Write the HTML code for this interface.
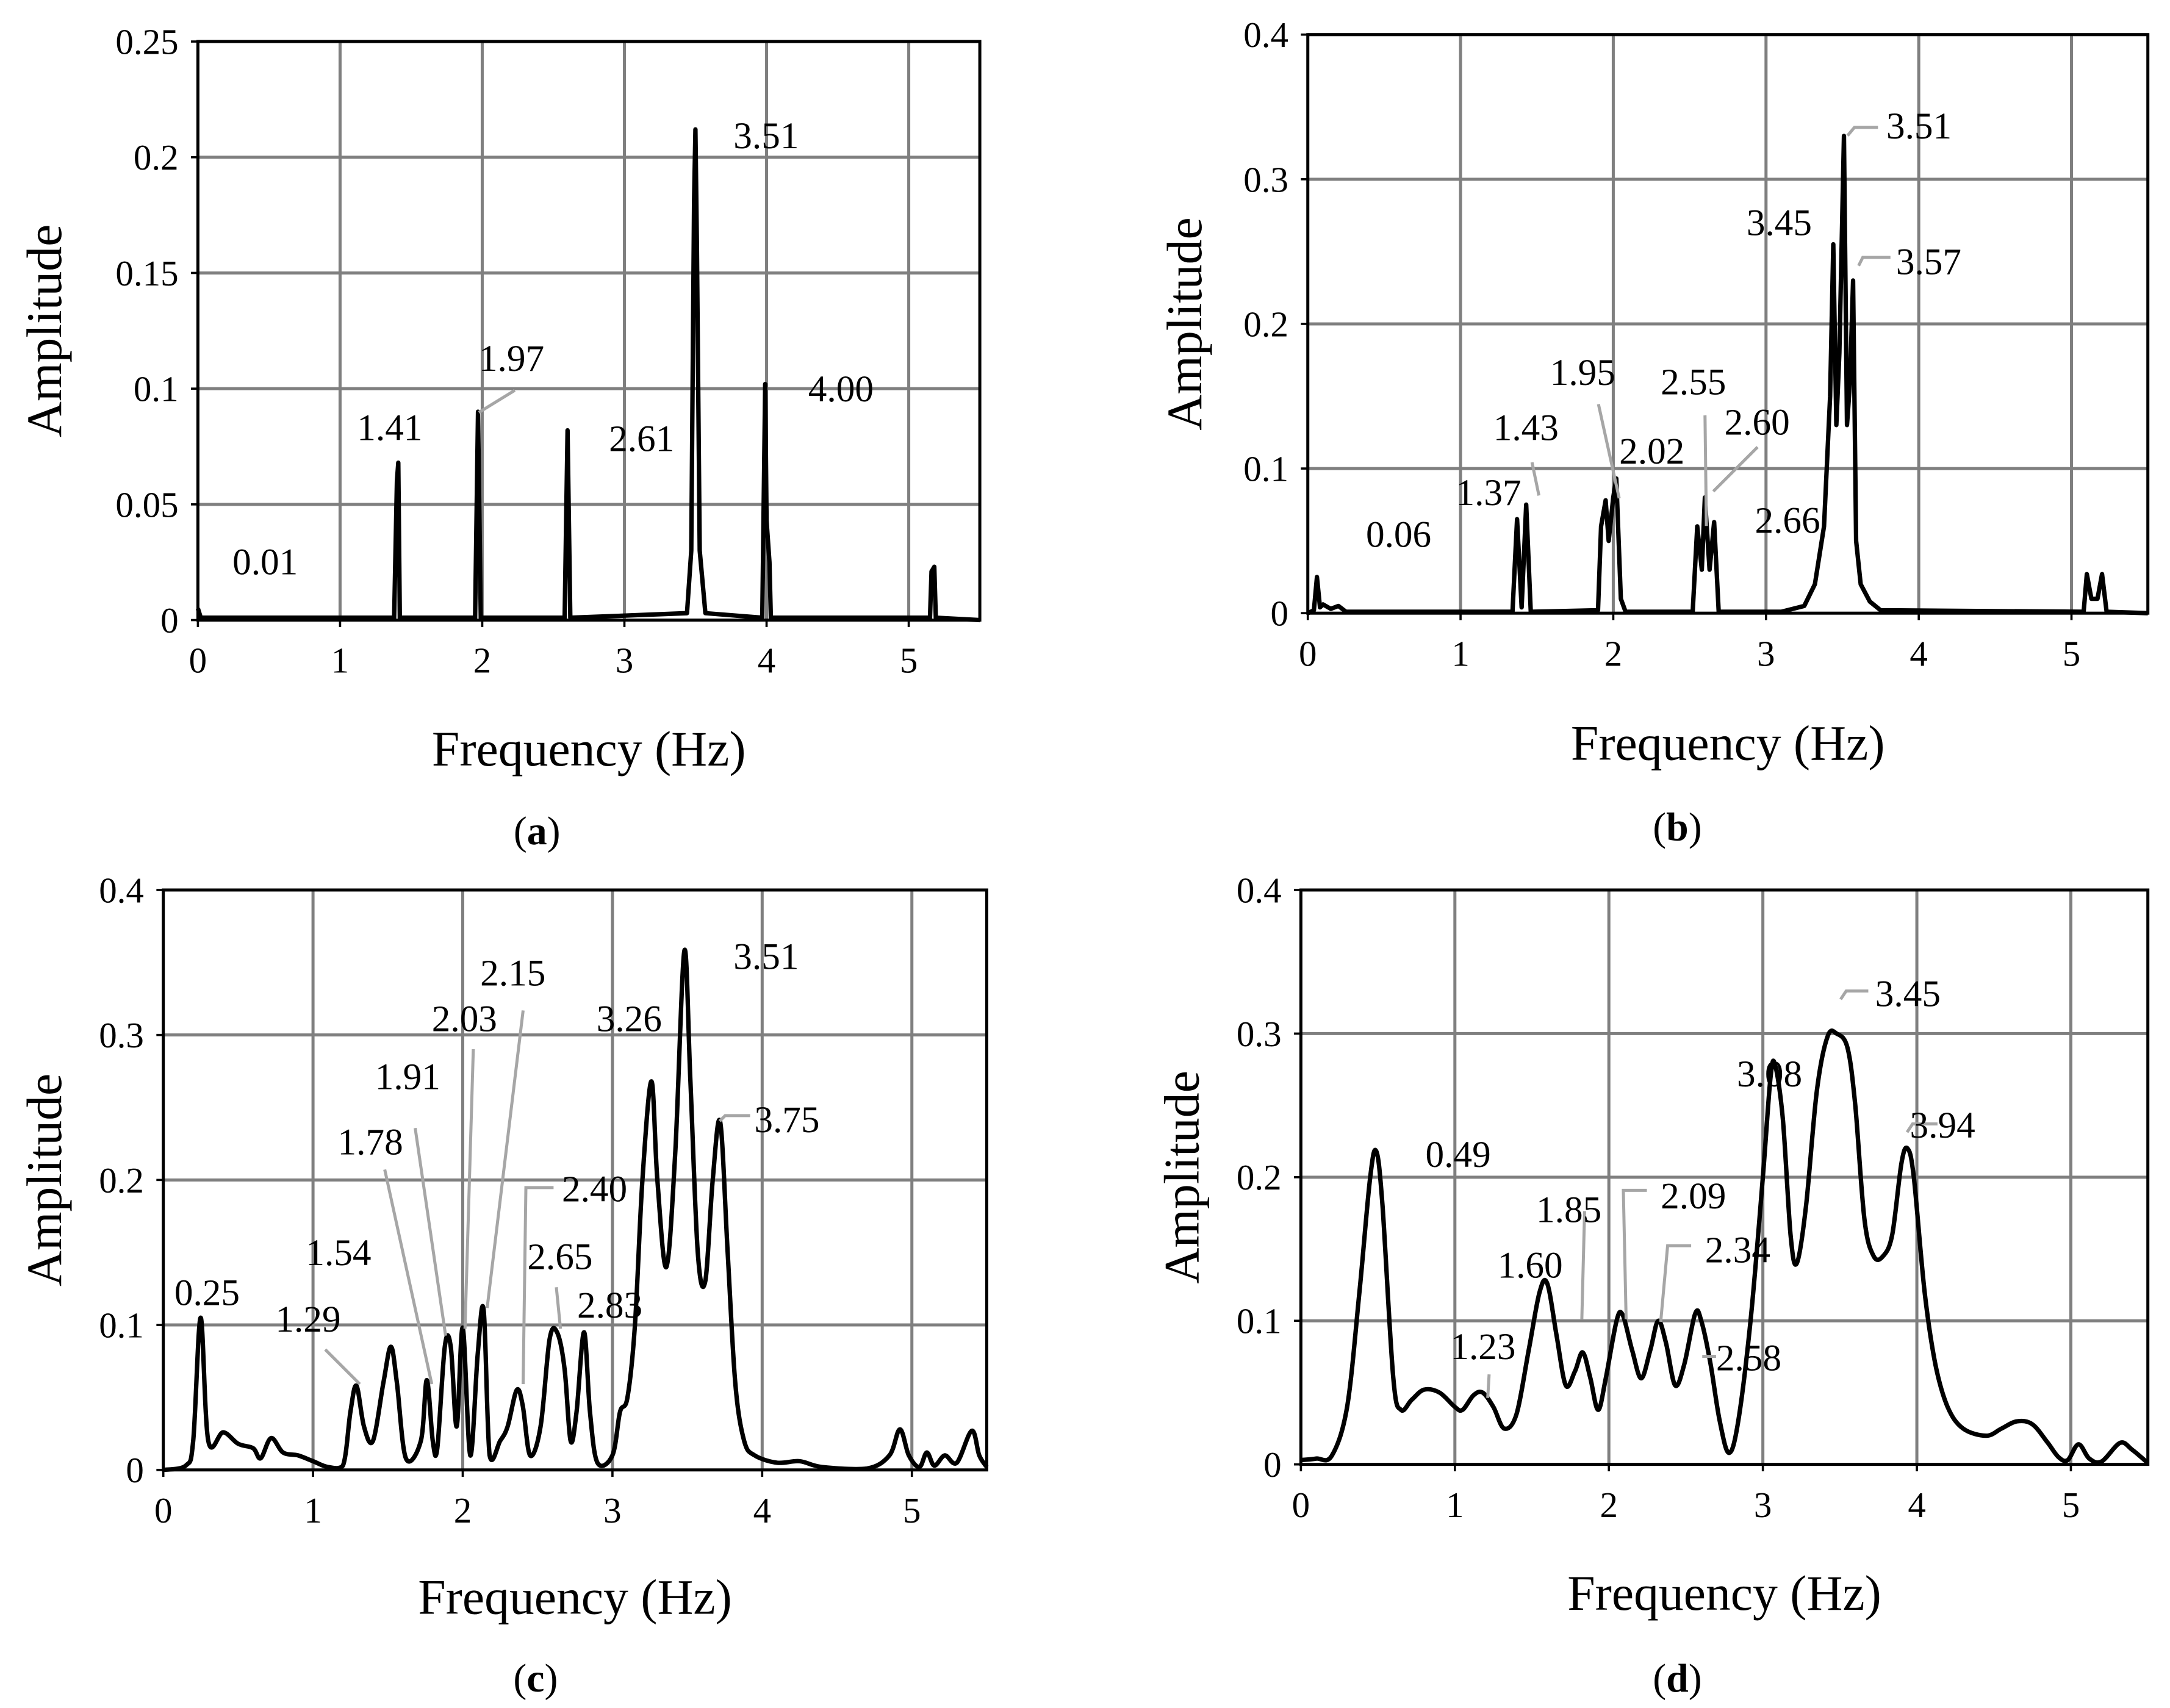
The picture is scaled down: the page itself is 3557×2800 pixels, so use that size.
<!DOCTYPE html>
<html><head><meta charset="utf-8"><style>
html,body{margin:0;padding:0;background:#fff}
svg{display:block}
text{font-family:"Liberation Serif",serif;fill:#000}
.tk{font-size:26px}.ttl{font-size:36px}.ann{font-size:27px}.cap{font-size:29px}
</style></head><body>
<svg id="fig" width="3557" height="2800" viewBox="0 0 1568 1234" preserveAspectRatio="none" xmlns="http://www.w3.org/2000/svg"></svg>
<script>
// ---- data ----
const freqA=[0,0.02,1.38,1.40,1.41,1.42,1.95,1.97,1.99,2.58,2.60,2.62,3.44,3.47,3.49,3.50,3.51,3.53,3.57,3.97,3.99,4.00,4.02,4.03,5.15,5.16,5.18,5.19,5.5];
const ampA=[0.005,0.001,0.001,0.06,0.068,0.001,0.001,0.09,0.001,0.001,0.082,0.001,0.003,0.03,0.18,0.212,0.16,0.03,0.003,0.001,0.102,0.043,0.025,0.001,0.001,0.021,0.023,0.001,0];
const freqB=[0,0.04,0.06,0.08,0.1,0.15,0.2,0.25,1.34,1.37,1.40,1.43,1.46,1.90,1.92,1.95,1.97,2.00,2.02,2.05,2.08,2.52,2.55,2.58,2.60,2.63,2.66,2.69,3.1,3.25,3.32,3.38,3.42,3.44,3.46,3.48,3.51,3.53,3.55,3.57,3.59,3.62,3.68,3.75,5.08,5.10,5.13,5.17,5.20,5.23,5.5];
const ampB=[0,0.002,0.025,0.004,0.006,0.003,0.005,0.001,0.001,0.065,0.004,0.075,0.001,0.002,0.06,0.078,0.05,0.08,0.093,0.01,0.001,0.001,0.06,0.03,0.08,0.03,0.063,0.001,0.001,0.005,0.02,0.06,0.15,0.255,0.13,0.18,0.33,0.13,0.16,0.23,0.05,0.02,0.008,0.002,0.001,0.027,0.01,0.01,0.027,0.001,0];
const freqC=[0,0.15,0.2,0.25,0.3,0.4,0.5,0.6,0.65,0.72,0.8,0.9,1.0,1.1,1.2,1.25,1.29,1.34,1.40,1.47,1.52,1.56,1.62,1.72,1.76,1.80,1.83,1.88,1.92,1.96,2.0,2.05,2.10,2.14,2.18,2.25,2.30,2.36,2.40,2.45,2.52,2.58,2.63,2.68,2.72,2.76,2.81,2.85,2.90,3.0,3.05,3.10,3.15,3.2,3.26,3.30,3.36,3.42,3.48,3.52,3.57,3.62,3.67,3.72,3.77,3.82,3.88,3.95,4.1,4.25,4.4,4.7,4.85,4.92,4.98,5.05,5.1,5.15,5.22,5.3,5.4,5.45,5.5];
const ampC=[0,0.003,0.02,0.105,0.02,0.026,0.018,0.015,0.008,0.022,0.012,0.01,0.006,0.002,0.003,0.04,0.058,0.03,0.02,0.06,0.085,0.06,0.008,0.02,0.062,0.02,0.015,0.085,0.085,0.03,0.098,0.01,0.08,0.11,0.01,0.02,0.03,0.055,0.045,0.01,0.03,0.09,0.095,0.07,0.02,0.04,0.095,0.04,0.005,0.01,0.04,0.05,0.1,0.2,0.268,0.2,0.14,0.22,0.358,0.27,0.15,0.13,0.2,0.24,0.15,0.06,0.02,0.01,0.005,0.006,0.002,0.001,0.01,0.028,0.01,0.002,0.012,0.003,0.01,0.005,0.027,0.01,0.002];
const freqD=[0,0.1,0.2,0.3,0.38,0.45,0.49,0.53,0.6,0.65,0.72,0.8,0.9,1.0,1.05,1.12,1.18,1.25,1.32,1.40,1.48,1.55,1.60,1.66,1.72,1.78,1.83,1.88,1.93,1.98,2.05,2.09,2.15,2.21,2.27,2.32,2.37,2.43,2.49,2.56,2.60,2.66,2.72,2.78,2.84,2.92,3.0,3.05,3.08,3.13,3.18,3.22,3.28,3.35,3.42,3.48,3.55,3.60,3.66,3.72,3.78,3.84,3.90,3.94,3.98,4.05,4.12,4.2,4.3,4.45,4.55,4.65,4.75,4.85,4.92,4.98,5.05,5.12,5.2,5.32,5.4,5.5];
const ampD=[0.003,0.004,0.006,0.04,0.12,0.2,0.218,0.18,0.06,0.038,0.045,0.052,0.05,0.04,0.038,0.048,0.05,0.04,0.025,0.035,0.08,0.12,0.126,0.09,0.055,0.065,0.078,0.06,0.038,0.06,0.1,0.104,0.08,0.06,0.08,0.1,0.085,0.055,0.07,0.105,0.1,0.07,0.03,0.008,0.03,0.1,0.2,0.27,0.278,0.24,0.16,0.14,0.18,0.26,0.298,0.3,0.29,0.25,0.17,0.145,0.145,0.16,0.21,0.22,0.2,0.12,0.07,0.04,0.025,0.02,0.025,0.03,0.028,0.015,0.005,0.003,0.014,0.004,0.002,0.015,0.01,0.001];
const xTicks=[0,1,2,3,4,5];
const yTicksA=[0,0.05,0.1,0.15,0.2,0.25];
const yTickLabelsA=["0","0.05","0.1","0.15","0.2","0.25"];
const yTicksB=[0,0.1,0.2,0.3,0.4];
const yTickLabelsB=["0","0.1","0.2","0.3","0.4"];

const NS="http://www.w3.org/2000/svg";
const svg=document.getElementById('fig');
function mk(tag,attrs,parent,txt){const e=document.createElementNS(NS,tag);for(const k in attrs)e.setAttribute(k,attrs[k]);if(txt!==undefined)e.textContent=txt;(parent||svg).appendChild(e);return e;}

function panel(id,box,ymax,yt,ytl,fx,fy,smooth,cap,capPos,titleY,ampX,anns){
  const g=mk('g',{});
  
  
  const sx=f=>box.L+(box.R-box.L)*f/5.5;
  const sy=a=>box.B-(box.B-box.T)*a/ymax;
  xTicks.forEach(t=>{if(t===0)return;const l=mk('line',{x1:sx(t),x2:sx(t),y1:box.T,y2:box.B,stroke:'#7f7f7f','stroke-width':2.2},g);
    });
  yt.forEach((t,i)=>{if(i===0)return;const l=mk('line',{x1:box.L,x2:box.R,y1:sy(t),y2:sy(t),stroke:'#7f7f7f','stroke-width':2.2},g);
    });
  const P=fx.map((f,i)=>[sx(f),sy(fy[i])]);
  let d='M'+P[0][0].toFixed(1)+','+P[0][1].toFixed(1);
  for(let i=0;i<P.length-1;i++){
    if(!smooth){d+='L'+P[i+1][0].toFixed(1)+','+P[i+1][1].toFixed(1);continue;}
    const p0=P[Math.max(i-1,0)],p1=P[i],p2=P[i+1],p3=P[Math.min(i+2,P.length-1)];
    let c1x=p1[0]+(p2[0]-p0[0])/6,c1y=p1[1]+(p2[1]-p0[1])/6,c2x=p2[0]-(p3[0]-p1[0])/6,c2y=p2[1]-(p3[1]-p1[1])/6;
    c1y=Math.min(c1y,box.B);c2y=Math.min(c2y,box.B);
    d+='C'+c1x.toFixed(1)+','+c1y.toFixed(1)+' '+c2x.toFixed(1)+','+c2y.toFixed(1)+' '+p2[0].toFixed(1)+','+p2[1].toFixed(1);
  }
  const p=mk('path',{d:d,fill:'none',stroke:'#000','stroke-width':smooth?3.2:3.2,'stroke-linejoin':'round'},g);
  
  const r=mk('rect',{x:box.L,y:box.T,width:box.R-box.L,height:box.B-box.T,fill:'none',stroke:'#000','stroke-width':2.2},g);
  
  xTicks.forEach(t=>{const e=mk('text',{x:sx(t),y:box.B+38,'text-anchor':'middle',class:'tk'},g,String(t));
    
    mk('line',{x1:sx(t),x2:sx(t),y1:box.B,y2:box.B+5,stroke:'#000','stroke-width':1.6},g);});
  yt.forEach((t,i)=>{const e=mk('text',{x:box.L-14,y:sy(t)+9,'text-anchor':'end',class:'tk'},g,ytl[i]);
    
    mk('line',{x1:box.L-5,x2:box.L,y1:sy(t),y2:sy(t),stroke:'#000','stroke-width':1.6},g);});
  const xt=mk('text',{x:(box.L+box.R)/2,y:titleY,'text-anchor':'middle',class:'ttl'},g,'Frequency (Hz)');
  
  const yy=(box.T+box.B)/2;
  const ytt=mk('text',{x:ampX,y:yy,'text-anchor':'middle',class:'ttl',transform:'rotate(-90 '+ampX+' '+yy+')'},g,'Amplitude');
  
  const c=mk('text',{x:capPos[0],y:capPos[1],'text-anchor':'middle',class:'cap'},g);
  
  mk('tspan',{},c,'(');mk('tspan',{'font-weight':'bold'},c,cap);mk('tspan',{},c,')');
  anns.forEach(a=>{
    if(a.l){const pl=mk('polyline',{points:a.l,fill:'none',stroke:'#a6a6a6','stroke-width':2.2},g);
      }
    const t=mk('text',{x:a.x,y:a.y,class:'ann'},g,a.t);
    
  });
}
panel('a',{L:143,R:708,T:30,B:448},0.25,yTicksA,yTickLabelsA,freqA,ampA,false,'a',[388,610],553,44,[
 {t:'0.01',x:168,y:415},{t:'1.41',x:258,y:318},{t:'1.97',x:346,y:268,l:'346,298 372,282'},
 {t:'2.61',x:440,y:326},{t:'3.51',x:530,y:107},{t:'4.00',x:584,y:290}]);
panel('b',{L:945,R:1552,T:25,B:443},0.4,yTicksB,yTickLabelsB,freqB,ampB,false,'b',[1212,607],549,868,[
 {t:'0.06',x:987,y:395},{t:'1.37',x:1052,y:365},{t:'1.43',x:1079,y:318,l:'1107,334 1112,358'},
 {t:'1.95',x:1120,y:278,l:'1155,292 1170,360'},{t:'2.02',x:1170,y:335},{t:'2.55',x:1200,y:285,l:'1232,300 1233,380'},
 {t:'2.60',x:1246,y:314,l:'1238,355 1270,323'},{t:'2.66',x:1268,y:385},{t:'3.45',x:1262,y:170},
 {t:'3.51',x:1363,y:100,l:'1335,98 1340,92 1357,92'},{t:'3.57',x:1370,y:198,l:'1343,192 1346,186 1366,186'}]);
panel('c',{L:118,R:713,T:643,B:1062},0.4,yTicksB,yTickLabelsB,freqC,ampC,true,'c',[387,1222],1166,44,[
 {t:'0.25',x:126,y:943},{t:'1.29',x:199,y:962,l:'235,975 260,1000'},{t:'1.54',x:221,y:914},
 {t:'1.78',x:244,y:834,l:'278,845 312,1000'},{t:'1.91',x:271,y:787,l:'300,815 322,965'},
 {t:'2.03',x:312,y:745,l:'342,758 336,960'},{t:'2.15',x:347,y:712,l:'378,730 352,945'},
 {t:'2.40',x:406,y:868,l:'400,858 380,858 378,1000'},{t:'2.65',x:381,y:917,l:'402,930 405,960'},
 {t:'2.83',x:417,y:952},{t:'3.26',x:431,y:745},{t:'3.51',x:530,y:700},{t:'3.75',x:545,y:818,l:'520,810 524,806 542,806'}]);
panel('d',{L:940,R:1552,T:643,B:1058},0.4,yTicksB,yTickLabelsB,freqD,ampD,true,'d',[1212,1222],1163,866,[
 {t:'0.49',x:1030,y:843},{t:'1.23',x:1048,y:982,l:'1076,993 1075,1010'},{t:'1.60',x:1082,y:923},
 {t:'1.85',x:1110,y:883,l:'1145,875 1143,953'},{t:'2.09',x:1200,y:873,l:'1190,860 1173,860 1175,953'},
 {t:'2.34',x:1232,y:912,l:'1222,900 1205,900 1200,955'},{t:'2.58',x:1240,y:990,l:'1230,980 1240,980'},
 {t:'3.08',x:1255,y:785},{t:'3.45',x:1355,y:727,l:'1330,722 1334,716 1350,716'},{t:'3.94',x:1380,y:822,l:'1378,818 1382,812 1400,812'}]);
</script>
</body></html>
